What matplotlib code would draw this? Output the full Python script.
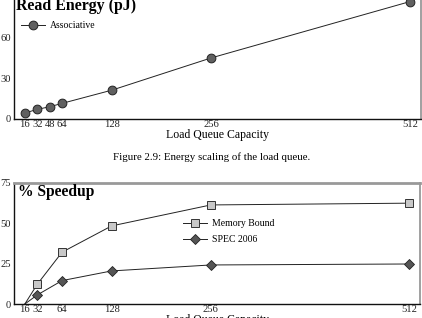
import matplotlib
matplotlib.use("Agg")
import matplotlib.pyplot as plt

plt.rcParams['font.family'] = ['Liberation Serif', 'DejaVu Serif']

# ---- data ----
energy_x = [16, 32, 48, 64, 128, 256, 512]
energy_assoc = [4.4, 7.1, 9.0, 11.5, 21.2, 44.9, 86.3]
energy_yticks = [0, 30, 60]

speed_x = [16, 32, 64, 128, 256, 512]
speed_membound = [0, 12.2, 32.1, 48.4, 61.4, 62.5]
speed_spec = [0, 5.6, 14.5, 20.5, 24.2, 24.8]
speed_yticks = [0, 25, 50, 75]

W, H = 422, 318
fig = plt.figure(figsize=(W / 100, H / 100), dpi=100)


def rect(l, r, top, bot):
    return [l / W, 1 - bot / H, (r - l) / W, (bot - top) / H]


def style(ax):
    for s in ['left', 'bottom']:
        ax.spines[s].set_color('#111111')
        ax.spines[s].set_linewidth(1.0)
    for s in ['right', 'top']:
        ax.spines[s].set_color('#999999')
        ax.spines[s].set_linewidth(1.3)
    ax.tick_params(axis='both', length=0, labelsize=7.6, colors='#222222')
    ax.tick_params(axis='x', pad=0.5)
    ax.tick_params(axis='y', pad=2)


# ---- top chart ----
ax1 = fig.add_axes(rect(14, 421, -3.5, 119))
ax1.plot(energy_x, energy_assoc, color='#222222', lw=0.7, marker='o',
         ms=6.3, mfc='#606060', mec='#222222', mew=0.7, label='Associative')
ax1.set_xlim(2, 526)
ax1.set_ylim(0, 90)
ax1.set_xticks(energy_x)
ax1.set_yticks(energy_yticks)
style(ax1)
ax1.set_xlabel('Load Queue Capacity', fontsize=8.5, labelpad=0.5)
ax1.legend(loc='center left', bbox_to_anchor=(20.7 / W, 1 - 25.7 / H),
           bbox_transform=fig.transFigure, frameon=False, fontsize=7,
           handlelength=2.47, handletextpad=0.5, borderpad=0, borderaxespad=0)
fig.text(16 / W, 1 - 10.5 / H, 'Read Energy (pJ)', fontsize=11.4,
         fontweight='bold', ha='left', va='baseline')

fig.text(211.5 / W, 1 - 157 / H, 'Figure 2.9: Energy scaling of the load queue.',
         fontsize=7.8, ha='center', va='center')

# ---- bottom chart ----
ax2 = fig.add_axes(rect(14, 420, 183, 304))
ax2.plot(speed_x, speed_membound, color='#222222', lw=0.7, marker='s',
         ms=6.2, mfc='#c8c8c8', mec='#333333', mew=0.7,
         markevery=list(range(1, len(speed_x))), label='Memory Bound')
ax2.plot(speed_x, speed_spec, color='#222222', lw=0.7, marker='D',
         ms=4.8, mfc='#555555', mec='#222222', mew=0.6,
         markevery=list(range(1, len(speed_x))), label='SPEC 2006')
ax2.set_xlim(2, 526)
ax2.set_ylim(0, 75)
ax2.set_xticks(speed_x)
ax2.set_yticks(speed_yticks)
style(ax2)
ax2.spines['top'].set_linewidth(2)
ax2.set_xlabel('Load Queue Capacity', fontsize=8.5, labelpad=0.5)
ax2.legend(loc='center left', bbox_to_anchor=(183.3 / W, 1 - 231.7 / H),
           bbox_transform=fig.transFigure, frameon=False, fontsize=7,
           handlelength=2.47, handletextpad=0.5, borderpad=0, borderaxespad=0,
           labelspacing=0.75)
fig.text(18 / W, 1 - 195.5 / H, '% Speedup', fontsize=11.2,
         fontweight='bold', ha='left', va='baseline')

fig.savefig('out.png', dpi=100)
